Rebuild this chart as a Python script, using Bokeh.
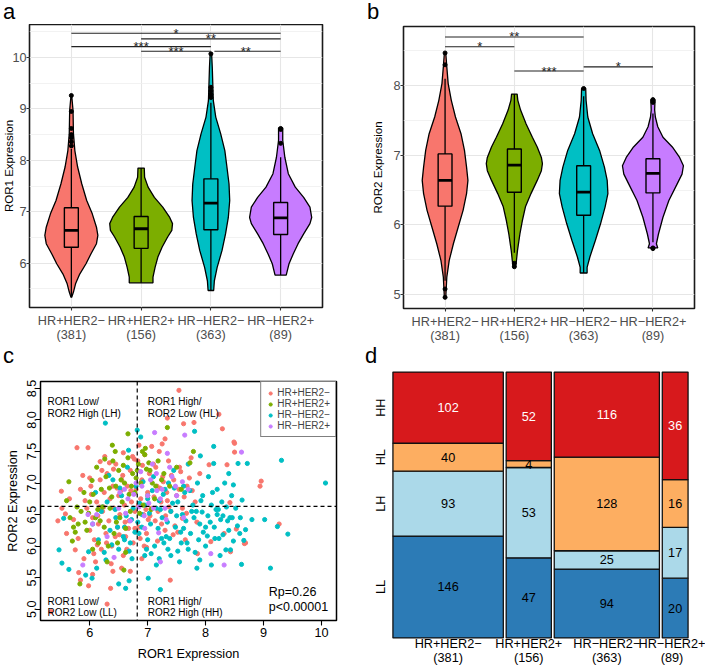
import math
from bokeh.plotting import figure
from bokeh.layouts import row, column
from bokeh.models import (Range1d, FixedTicker, Span, Legend, LegendItem, Div,
                          PrintfTickFormatter)
from bokeh.embed import file_html
from bokeh.resources import INLINE
from bokeh.core.properties import value

FONT = "Liberation Sans"

# ---------------- data ----------------
groups = ["HR+HER2\u2212", "HR+HER2+", "HR\u2212HER2\u2212", "HR\u2212HER2+"]
group_n = [381, 156, 363, 89]
group_colors = ["#F8766D", "#7CAE00", "#00BFC4", "#C77CFF"]

# Panel a: ROR1 violin outlines (value, half-width in category units)
ror1_violin_y = [
    [9.26, 8.97, 8.52, 8.19, 7.87, 7.54, 7.22, 6.96, 6.70, 6.54, 6.38, 6.18, 5.99, 5.79, 5.60, 5.44, 5.34],
    [7.85, 7.67, 7.48, 7.28, 7.09, 6.89, 6.77, 6.64, 6.51, 6.31, 6.12, 5.92, 5.73, 5.62],
    [10.09, 9.81, 9.16, 8.84, 8.52, 8.19, 7.87, 7.54, 7.22, 6.89, 6.57, 6.25, 5.92, 5.66, 5.47],
    [8.63, 8.39, 8.06, 7.74, 7.48, 7.28, 7.09, 6.89, 6.77, 6.57, 6.38, 6.18, 5.99, 5.77],
]
ror1_violin_hw = [
    [0.005, 0.024, 0.03, 0.05, 0.09, 0.15, 0.22, 0.30, 0.36, 0.38, 0.36, 0.28, 0.21, 0.12, 0.06, 0.03, 0.005],
    [0.045, 0.05, 0.10, 0.19, 0.31, 0.41, 0.45, 0.44, 0.38, 0.30, 0.24, 0.20, 0.17, 0.17],
    [0.01, 0.02, 0.035, 0.07, 0.14, 0.20, 0.23, 0.26, 0.27, 0.25, 0.21, 0.16, 0.09, 0.05, 0.04],
    [0.03, 0.03, 0.06, 0.11, 0.21, 0.33, 0.42, 0.445, 0.42, 0.33, 0.25, 0.18, 0.12, 0.08],
]
# box stats: lower whisker, q1, median, q3, upper whisker
ror1_lower = [5.34, 5.62, 5.47, 5.77]
ror1_q1 = [6.31, 6.29, 6.65, 6.56]
ror1_median = [6.64, 6.67, 7.17, 6.88]
ror1_q3 = [7.08, 6.91, 7.64, 7.18]
ror1_upper = [8.22, 7.85, 9.12, 8.06]
ror1_outliers = [[9.26, 8.95, 8.62, 8.50, 8.44, 8.36, 8.28], [], [10.07, 9.42, 9.35, 9.28, 9.22], [8.62, 8.60, 8.33]]
ror1_sig_from = [1, 2, 1, 2, 3]
ror1_sig_to = [4, 4, 3, 3, 4]
ror1_sig_y = [10.47, 10.36, 10.21, 10.12, 10.12]
ror1_sig_label = ["*", "**", "***", "***", "**"]

# Panel b: ROR2
ror2_violin_y = [
    [8.47, 8.27, 8.03, 7.79, 7.55, 7.31, 7.07, 6.83, 6.64, 6.45, 6.21, 5.97, 5.73, 5.49, 5.25, 4.96],
    [7.88, 7.79, 7.65, 7.45, 7.26, 7.12, 6.97, 6.88, 6.78, 6.64, 6.45, 6.26, 6.06, 5.87, 5.63, 5.49, 5.40],
    [7.96, 7.79, 7.55, 7.31, 7.07, 6.83, 6.64, 6.45, 6.26, 6.02, 5.78, 5.54, 5.39, 5.31],
    [7.80, 7.65, 7.55, 7.41, 7.26, 7.12, 6.97, 6.85, 6.73, 6.59, 6.35, 6.11, 5.87, 5.73, 5.67],
]
ror2_violin_hw = [
    [0.01, 0.025, 0.045, 0.09, 0.15, 0.23, 0.28, 0.31, 0.33, 0.31, 0.26, 0.19, 0.12, 0.06, 0.025, 0.01],
    [0.04, 0.05, 0.09, 0.17, 0.26, 0.33, 0.39, 0.405, 0.39, 0.33, 0.24, 0.16, 0.115, 0.08, 0.045, 0.03, 0.02],
    [0.03, 0.035, 0.06, 0.13, 0.23, 0.30, 0.34, 0.35, 0.31, 0.245, 0.17, 0.09, 0.05, 0.05],
    [0.03, 0.025, 0.035, 0.07, 0.145, 0.28, 0.385, 0.44, 0.42, 0.35, 0.23, 0.145, 0.08, 0.05, 0.07],
]
ror2_lower = [5.20, 5.60, 5.31, 5.75]
ror2_q1 = [6.27, 6.47, 6.14, 6.46]
ror2_median = [6.64, 6.86, 6.47, 6.74]
ror2_q3 = [7.02, 7.09, 6.85, 6.95]
ror2_upper = [8.10, 7.88, 7.85, 7.60]
ror2_outliers = [[8.47, 8.30, 5.08, 4.96], [5.45, 5.40], [7.96], [7.80, 7.78, 7.76, 5.67, 5.66]]
ror2_sig_from = [1, 1, 2, 3]
ror2_sig_to = [3, 2, 3, 4]
ror2_sig_y = [8.70, 8.56, 8.21, 8.27]
ror2_sig_label = ["**", "*", "***", "*"]

# Panel c: scatter (ROR1, ROR2) per subtype
red_x = [7.54, 7.34, 8.23, 7.80, 8.29, 7.62, 5.78, 5.97, 8.49, 8.50, 8.50, 8.37, 8.06, 8.96, 8.94, 8.42, 8.53, 9.27, 8.67, 8.69,
         8.43, 8.32, 8.09, 7.86, 7.39, 6.30, 5.33, 5.98, 6.36, 5.81, 5.84, 5.75, 5.90, 6.10, 5.51, 5.84, 5.58, 5.52, 5.45, 6.18,
         6.21, 6.85, 7.30, 7.25, 7.60, 7.65, 5.60, 5.65,
         5.95, 6.00, 6.02, 6.05, 6.08, 6.12, 6.15, 6.18, 6.20, 6.22, 6.25, 6.28, 6.30, 6.33, 6.35, 6.38, 6.40, 6.42, 6.45, 6.48,
         6.50, 6.52, 6.55, 6.58, 6.60, 6.62, 6.65, 6.68, 6.70, 6.72, 6.75, 6.78, 6.80, 6.83, 6.85, 6.88, 6.90, 6.93, 6.95, 6.98,
         7.00, 7.03, 7.06, 7.10, 7.13, 7.16, 7.20, 7.23, 7.26, 7.30, 7.33, 7.36, 7.40, 7.45, 7.50, 7.55, 7.60, 7.68, 7.75, 7.82,
         7.90, 6.40, 6.55, 6.70, 6.05, 6.90,
         5.72, 5.88, 6.03, 6.14, 6.26, 6.37, 6.47, 6.57, 6.67, 6.77, 6.87, 6.97, 7.07, 7.17, 7.27, 7.37, 7.47, 7.57, 7.67, 7.77,
         5.80, 5.92, 6.07, 6.17, 6.29, 6.41, 6.51, 6.61, 6.71, 6.81, 6.91, 7.01, 7.11, 7.21, 7.31, 7.41, 7.52, 7.63, 7.72, 7.85,
         6.00, 6.13, 6.24, 6.34, 6.44, 6.54, 6.64, 6.74, 6.84, 6.94, 7.04, 7.14, 7.24, 7.34, 7.44, 7.54, 6.58, 6.78, 6.98, 7.18]
red_y = [8.47, 8.03, 8.09, 7.96, 7.86, 7.94, 7.56, 7.56, 7.65, 7.49, 7.63, 7.29, 7.29, 7.03, 6.95, 6.69, 6.27, 6.35, 6.04, 6.05,
         5.91, 6.20, 6.07, 5.88, 5.46, 5.08, 4.96, 5.37, 5.33, 5.58, 5.46, 5.94, 5.80, 5.75, 6.87, 6.90, 6.51, 6.60, 6.40, 7.34,
         7.20, 7.60, 7.70, 7.62, 6.44, 6.10, 6.20, 6.75,
         6.60, 6.25, 6.95, 6.45, 6.10, 6.70, 6.35, 7.05, 5.95, 6.55, 6.85, 6.20, 7.15, 6.40, 6.75, 6.00, 6.95, 6.60, 7.30, 6.30,
         6.80, 6.50, 7.05, 5.85, 6.65, 6.15, 6.95, 6.40, 7.20, 6.70, 6.05, 6.55, 6.90, 7.35, 6.30, 6.75, 7.05, 6.50, 7.45, 6.20,
         6.85, 7.15, 6.60, 7.30, 6.40, 6.95, 7.50, 6.70, 7.10, 6.25, 6.85, 7.35, 6.55, 7.05, 6.80, 7.25, 6.60, 6.95, 7.40, 6.70,
         7.15, 5.60, 5.65, 5.60, 5.55, 5.80,
         6.42, 7.12, 6.82, 6.48, 7.42, 5.72, 6.92, 7.12, 6.28, 7.38, 6.12, 6.58, 7.58, 6.08, 7.02, 6.62, 6.32, 7.18, 6.52, 6.88,
         6.12, 6.72, 5.88, 6.62, 6.05, 7.22, 6.18, 6.38, 6.88, 6.22, 7.28, 6.42, 6.78, 6.92, 6.48, 7.12, 6.22, 6.78, 7.08, 6.38,
         7.08, 6.02, 6.62, 7.32, 6.15, 6.88, 5.95, 7.42, 6.65, 6.00, 6.48, 7.25, 6.35, 6.72, 6.18, 6.90, 7.48, 6.28, 5.98, 6.55]
green_x = [6.66, 6.39, 5.64, 6.04, 7.34, 6.91, 6.95, 7.79, 7.73, 5.83, 5.72, 5.75, 5.80, 6.59, 5.60, 5.66, 5.70, 5.85, 5.90, 5.95,
           6.00, 6.05, 6.10, 6.12, 6.15, 6.20, 6.25, 6.28, 6.32, 6.35, 6.40, 6.42, 6.45, 6.50, 6.52, 6.56, 6.60, 6.62, 6.66, 6.70,
           6.74, 6.78, 6.84, 6.88, 6.96, 7.00, 7.04, 7.08, 7.12, 7.18, 7.24, 7.38, 7.50, 7.58, 6.30, 6.18, 6.48,
           5.78, 5.92, 6.06, 6.22, 6.34, 6.46, 6.58, 6.68, 6.80, 6.92, 7.02, 7.14, 7.28, 6.14, 6.38, 6.54, 6.72, 6.86, 7.06, 6.26,
           6.62, 6.98, 5.98, 6.44, 6.82]
green_y = [7.78, 7.60, 7.02, 7.04, 7.88, 7.50, 7.45, 7.50, 7.32, 5.40, 6.30, 6.22, 6.35, 5.62, 6.72, 6.45, 6.08, 6.55, 6.85, 6.25,
           6.70, 5.95, 6.45, 7.25, 6.05, 6.90, 6.30, 7.10, 6.00, 6.60, 7.35, 6.20, 6.95, 7.20, 6.45, 6.70, 7.00, 5.90, 7.40, 6.55,
           7.15, 6.85, 7.30, 7.00, 7.55, 6.80, 7.20, 7.00, 6.75, 7.35, 7.05, 6.95, 7.25, 6.90, 5.75, 6.40, 6.05,
           6.62, 6.38, 6.82, 6.62, 6.92, 6.38, 7.28, 6.82, 7.08, 6.65, 7.32, 6.95, 7.15, 6.58, 6.78, 7.05, 6.95, 6.52, 6.58, 7.38,
           6.28, 7.22, 6.52, 7.50, 7.20]
cyan_x = [6.27, 6.67, 6.82, 6.88, 7.81, 8.14, 7.91, 8.40, 8.14, 8.56, 8.72, 9.31, 10.07, 8.48, 8.63, 8.46, 8.80, 9.02, 9.24, 8.59,
          8.69, 9.42, 8.66, 8.62, 9.12, 7.94, 8.20, 8.30, 8.03, 8.23, 7.22, 7.01, 8.35, 8.43, 7.85, 8.10, 5.64, 5.52, 5.47, 5.93,
          6.04, 5.98, 6.12, 6.73, 6.50, 6.62, 6.68, 5.55,
          6.05, 6.10, 6.15, 6.20, 6.25, 6.30, 6.35, 6.40, 6.45, 6.50, 6.55, 6.60, 6.65, 6.70, 6.75, 6.80, 6.85, 6.90, 6.95, 7.00,
          7.05, 7.10, 7.12, 7.15, 7.20, 7.25, 7.30, 7.32, 7.35, 7.40, 7.45, 7.48, 7.52, 7.55, 7.58, 7.62, 7.66, 7.70, 7.74, 7.78,
          7.82, 7.86, 7.90, 7.95, 8.00, 8.05, 8.10, 8.15, 8.20, 8.25, 8.28, 8.33, 8.38, 8.45, 8.52, 7.00, 7.28, 7.60, 7.15, 6.95,
          7.40, 7.70,
          6.22, 6.38, 6.52, 6.63, 6.78, 6.92, 7.03, 7.18, 7.27, 7.38, 7.50, 7.62, 7.73, 7.84, 7.96, 8.08, 8.18, 8.30, 8.42, 8.55,
          6.28, 6.44, 6.58, 6.72, 6.86, 6.98, 7.08, 7.22, 7.34, 7.46, 7.57, 7.68, 7.80, 7.92, 8.04, 8.16, 8.26, 8.36, 8.48, 8.60,
          6.33, 6.48, 6.68, 6.83, 7.06, 7.24, 7.43, 7.64, 7.88, 8.12, 6.90, 7.20, 7.52, 7.76, 8.00, 8.22, 6.60, 7.36, 7.90, 8.40]
cyan_y = [7.95, 7.52, 7.84, 7.73, 7.82, 7.58, 7.43, 7.15, 7.31, 7.31, 7.31, 7.36, 7.00, 6.97, 6.73, 6.45, 6.42, 6.42, 6.31, 6.20,
          6.26, 6.19, 6.09, 5.71, 5.65, 6.54, 6.50, 6.48, 6.16, 6.12, 5.31, 5.49, 5.94, 5.94, 5.65, 5.70, 5.63, 5.73, 5.94, 5.54,
          5.49, 5.91, 5.65, 5.80, 5.40, 5.33, 5.45, 6.44,
          6.35, 6.85, 6.10, 6.55, 5.90, 6.70, 6.25, 7.05, 6.45, 5.95, 6.80, 6.30, 7.25, 6.05, 6.60, 6.95, 6.20, 6.50, 5.85, 6.75,
          6.35, 7.10, 6.00, 6.60, 5.80, 6.45, 6.90, 6.15, 5.95, 6.55, 7.20, 6.30, 6.70, 5.75, 6.05, 6.95, 6.40, 7.30, 6.20, 6.65,
          5.90, 7.00, 6.35, 6.80, 6.00, 7.10, 6.65, 6.30, 6.90, 5.85, 6.70, 7.00, 6.40, 6.80, 6.60, 6.10, 6.05, 6.50, 5.70, 6.65,
          5.85, 5.95,
          6.62, 6.02, 6.92, 6.48, 6.22, 7.02, 6.52, 6.28, 6.82, 6.12, 6.48, 6.28, 6.88, 6.55, 6.22, 6.38, 6.58, 6.18, 6.45, 6.32,
          5.78, 6.58, 6.15, 6.42, 6.68, 5.95, 6.88, 6.58, 6.38, 6.92, 6.22, 6.05, 6.45, 6.72, 6.48, 6.12, 6.42, 6.62, 6.08, 6.45,
          7.12, 6.30, 5.92, 6.38, 5.88, 6.12, 6.68, 6.85, 6.10, 6.85, 6.30, 6.72, 5.92, 6.55, 6.30, 6.58, 6.10, 7.00, 5.78, 6.25]
purple_x = [7.12, 7.34, 7.64, 8.62, 7.19, 8.09, 8.32, 7.22, 5.97, 6.12, 5.88, 6.05, 6.30, 6.50, 6.60, 6.70, 6.80, 6.85, 6.90, 6.95,
            7.00, 7.05, 7.10, 7.15, 7.25, 7.30, 7.38, 7.50, 7.70, 7.62, 6.42, 6.66, 7.42,
            6.62, 6.76, 6.88, 7.02, 7.16, 7.32, 7.48, 6.94, 7.08, 7.22, 6.52, 7.60]
purple_y = [7.80, 7.47, 7.76, 7.49, 6.21, 5.88, 5.70, 5.75, 6.50, 6.50, 5.70, 6.35, 6.15, 6.60, 6.90, 6.40, 7.00, 6.62, 6.95, 6.28,
            6.80, 7.05, 6.60, 7.15, 6.90, 6.60, 7.25, 6.80, 6.90, 6.45, 5.82, 6.75, 7.10,
            6.52, 6.82, 7.18, 6.68, 6.88, 6.42, 6.95, 6.48, 7.30, 6.75, 6.85, 7.02]
ror1_cut = 6.82
ror2_cut = 6.63
rp_text = ["Rp=0.26", "p<0.00001"]

# Panel d: mosaic counts per subtype (columns) and ROR1/ROR2 class (rows, bottom to top)
mosaic_rows = ["LL", "LH", "HL", "HH"]
counts_LL = [146, 47, 94, 20]
counts_LH = [93, 53, 25, 17]
counts_HL = [40, 4, 128, 16]
counts_HH = [102, 52, 116, 36]
mosaic_colors = ["#2C7BB6", "#ABD9E9", "#FDAE61", "#D7191C"]
mosaic_text_colors = ["black", "black", "black", "white"]

# ---------------- helpers ----------------
GRID_MAJOR = "#E6E6E6"
GRID_MINOR = "#EFEFEF"
TICK_COL = "#4D4D4D"


def no_align(p):
    try:
        p.frame_align = False
    except Exception:
        pass


def axis_common(ax, size="12.7px", color=TICK_COL):
    ax.major_label_text_font = FONT
    ax.major_label_text_font_size = size
    ax.major_label_text_color = color
    ax.axis_label_text_font = FONT
    ax.axis_label_text_font_style = "normal"
    ax.axis_label_text_color = "black"
    ax.minor_tick_line_color = None
    ax.axis_line_color = None


def letter_div(ch, width, height, indent, lh):
    return Div(text=ch, width=width, height=height, margin=0,
               styles={"font-family": "'Liberation Sans', Arial, sans-serif", "font-size": "22px",
                       "line-height": f"{lh}px", "text-indent": f"{indent}px", "color": "black",
                       "padding": "0px", "overflow": "visible"})


def violin_panel(width, height, borders, yr, yticks, yminor, ylabel,
                 vy, vhw, lower, q1, med, q3, upper, outl, sfrom, sto, sy, slab):
    bl, br, bt, bb = borders
    p = figure(width=width, height=height, x_range=Range1d(0.4, 4.6), y_range=Range1d(*yr),
               output_backend="svg", toolbar_location=None, title=None,
               min_border_left=bl, min_border_right=br, min_border_top=bt, min_border_bottom=bb)
    no_align(p)
    p.background_fill_color = "white"
    p.border_fill_color = "white"
    p.outline_line_color = "#1A1A1A"
    p.outline_line_width = 1.6
    p.xaxis.ticker = FixedTicker(ticks=[1, 2, 3, 4])
    p.xaxis.major_label_overrides = {i + 1: f"{g}\n({n})" for i, (g, n) in enumerate(zip(groups, group_n))}
    p.yaxis.ticker = FixedTicker(ticks=yticks, minor_ticks=yminor)
    for ax in (p.xaxis[0], p.yaxis[0]):
        axis_common(ax)
        ax.major_tick_line_color = "#333333"
        ax.major_tick_line_width = 1.1
        ax.major_tick_out = 3
        ax.major_tick_in = 0
    p.xaxis.major_label_standoff = 3
    p.xaxis.major_label_text_line_height = 1.0
    p.yaxis.major_label_standoff = -1
    p.yaxis.axis_label = ylabel
    p.yaxis.axis_label_text_font_size = "11.5px"
    p.xgrid.grid_line_color = GRID_MAJOR
    p.xgrid.grid_line_width = 1.1
    p.ygrid.grid_line_color = GRID_MAJOR
    p.ygrid.grid_line_width = 1.1
    p.ygrid.minor_grid_line_color = GRID_MINOR
    p.ygrid.minor_grid_line_width = 0.8

    bw = 0.1
    for i in range(4):
        c = i + 1
        ys = vy[i]
        hws = vhw[i]
        xs = [c - h for h in hws] + [c + h for h in reversed(hws)]
        yy = list(ys) + list(reversed(ys))
        p.patch(xs, yy, fill_color=group_colors[i], line_color="black", line_width=1.3)
    cx = [i + 1 for i in range(4)]
    p.segment(x0=cx, y0=q3, x1=cx, y1=upper, line_color="black", line_width=1.3)
    p.segment(x0=cx, y0=lower, x1=cx, y1=q1, line_color="black", line_width=1.3)
    p.quad(left=[c - bw for c in cx], right=[c + bw for c in cx], bottom=q1, top=q3,
           fill_color=None, line_color="black", line_width=1.4)
    p.segment(x0=[c - bw for c in cx], y0=med, x1=[c + bw for c in cx], y1=med,
              line_color="black", line_width=2.8)
    ox, oy = [], []
    for i in range(4):
        for v in outl[i]:
            ox.append(i + 1)
            oy.append(v)
    p.scatter(ox, oy, size=4, color="black")
    # significance brackets
    x0s, x1s, tx = [], [], []
    for k in range(len(sfrom)):
        a = sfrom[k]
        for m in range(len(sfrom)):
            if m != k and sto[m] == sfrom[k] and abs(sy[m] - sy[k]) < 1e-6:
                a = sfrom[k] + 0.05
        x0s.append(a)
        x1s.append(sto[k])
        tx.append((sfrom[k] + sto[k]) / 2)
    p.segment(x0=x0s, y0=sy, x1=x1s, y1=sy, line_color="#222222", line_width=1.1)
    p.text(x=tx, y=sy, text=slab, text_align="center", text_baseline="middle",
           text_font=value(FONT), text_font_size="13px", text_color="#222222")
    return p


# ---------------- panel a ----------------
pa = violin_panel(355, 321, (29, 33, 0, 38), (5.14, 10.64), [6, 7, 8, 9, 10],
                  [5.5, 6.5, 7.5, 8.5, 9.5, 10.5], "ROR1 Expression",
                  ror1_violin_y, ror1_violin_hw, ror1_lower, ror1_q1, ror1_median, ror1_q3, ror1_upper,
                  ror1_outliers, ror1_sig_from, ror1_sig_to, ror1_sig_y, ror1_sig_label)
pa.yaxis.axis_label_standoff = -6

# ---------------- panel b ----------------
pb = violin_panel(350, 321, (48, 11, 2, 37), (4.80, 8.85), [5, 6, 7, 8],
                  [5.5, 6.5, 7.5, 8.5], "ROR2 Expression",
                  ror2_violin_y, ror2_violin_hw, ror2_lower, ror2_q1, ror2_median, ror2_q3, ror2_upper,
                  ror2_outliers, ror2_sig_from, ror2_sig_to, ror2_sig_y, ror2_sig_label)
pb.yaxis.axis_label_standoff = 6

# ---------------- panel c ----------------
pc = figure(width=355, height=299, x_range=Range1d(5.15, 10.26), y_range=Range1d(4.82, 8.61),
            output_backend="svg", toolbar_location=None, title=None,
            min_border_left=40, min_border_right=19, min_border_top=13, min_border_bottom=47)
no_align(pc)
pc.background_fill_color = "white"
pc.border_fill_color = "white"
pc.outline_line_color = "black"
pc.outline_line_width = 1.5
pc.xgrid.visible = False
pc.ygrid.visible = False
pc.xaxis.ticker = FixedTicker(ticks=[6, 7, 8, 9, 10])
pc.yaxis.ticker = FixedTicker(ticks=[5.0, 5.5, 6.0, 6.5, 7.0, 7.5, 8.0, 8.5])
pc.yaxis.formatter = PrintfTickFormatter(format="%.1f")
for ax in (pc.xaxis[0], pc.yaxis[0]):
    axis_common(ax, color="black")
    ax.major_tick_line_color = "black"
    ax.major_tick_line_width = 1.1
    ax.major_tick_out = 5
    ax.major_tick_in = 0
    ax.axis_label_text_font_size = "12.7px"
pc.xaxis.axis_label = "ROR1 Expression"
pc.xaxis.major_label_standoff = 2
pc.xaxis.axis_label_standoff = 7
pc.yaxis.axis_label = "ROR2 Expression"
pc.yaxis.major_label_orientation = "parallel"
pc.yaxis.major_label_standoff = -1
pc.yaxis.axis_label_standoff = 5

r_red = pc.scatter(red_x, red_y, size=4.2, color=group_colors[0])
r_cyan = pc.scatter(cyan_x, cyan_y, size=4.2, color=group_colors[2])
r_green = pc.scatter(green_x, green_y, size=4.2, color=group_colors[1])
r_purple = pc.scatter(purple_x, purple_y, size=4.2, color=group_colors[3])
pc.add_layout(Span(location=ror1_cut, dimension="height", line_color="black", line_width=1.2, line_dash="4 3"))
pc.add_layout(Span(location=ror2_cut, dimension="width", line_color="black", line_width=1.2, line_dash="4 3"))

qtxt_x = [5.27, 5.27, 7.00, 7.00, 5.27, 5.27, 7.00, 7.00]
qtxt_y = [8.29, 8.11, 8.29, 8.11, 5.12, 4.94, 5.12, 4.94]
qtxt = ["ROR1 Low/", "ROR2 High (LH)", "ROR1 High/", "ROR2 Low (HL)",
        "ROR1 Low/", "ROR2 Low (LL)", "ROR1 High/", "ROR2 High (HH)"]
pc.text(x=qtxt_x, y=qtxt_y, text=qtxt, text_align="left", text_baseline="middle",
        text_font=value(FONT), text_font_size="10px", text_color="black")
pc.text(x=[9.09, 9.09], y=[5.27, 5.04], text=rp_text, text_align="left", text_baseline="middle",
        text_font=value(FONT), text_font_size="12.5px", text_color="black")

legend = Legend(items=[LegendItem(label=groups[0], renderers=[r_red]),
                       LegendItem(label=groups[1], renderers=[r_green]),
                       LegendItem(label=groups[2], renderers=[r_cyan]),
                       LegendItem(label=groups[3], renderers=[r_purple])],
                location="top_right", margin=0, padding=5, spacing=0,
                label_height=10, glyph_height=10, glyph_width=8, label_standoff=3,
                border_line_color="black", border_line_width=1.5,
                background_fill_color="white", background_fill_alpha=1.0,
                label_text_font=FONT, label_text_font_size="10px")
pc.add_layout(legend)

# ---------------- panel d ----------------
gap = 0.01
total = sum(group_n)
row_counts = [counts_LL, counts_LH, counts_HL, counts_HH]
lefts, rights, centers = [], [], []
xcur = 0.0
for n in group_n:
    w = n / total
    lefts.append(xcur)
    rights.append(xcur + w)
    centers.append(round(xcur + w / 2, 5))
    xcur += w + gap
xmax = xcur - gap

pd_ = figure(width=350, height=299, x_range=Range1d(-0.005, xmax + 0.005), y_range=Range1d(-0.006, 1.006),
             output_backend="svg", toolbar_location=None, title=None,
             min_border_left=36, min_border_right=16, min_border_top=2, min_border_bottom=28)
no_align(pd_)
pd_.background_fill_color = "white"
pd_.border_fill_color = "white"
pd_.outline_line_color = None
pd_.xgrid.visible = False
pd_.ygrid.visible = False

ql, qr, qb, qt, qc, tx, ty, tt, tc = [], [], [], [], [], [], [], [], []
row_label_pos = []
for j in range(4):
    ycur = 0.0
    for r in range(4):
        h = row_counts[r][j] / group_n[j]
        ql.append(lefts[j]); qr.append(rights[j]); qb.append(ycur); qt.append(ycur + h)
        qc.append(mosaic_colors[r])
        tx.append((lefts[j] + rights[j]) / 2); ty.append(ycur + h / 2)
        tt.append(str(row_counts[r][j])); tc.append(mosaic_text_colors[r])
        if j == 0:
            row_label_pos.append(round(ycur + h / 2, 5))
        ycur += h
pd_.quad(left=ql, right=qr, bottom=qb, top=qt, fill_color=qc, line_color="#111111", line_width=1.3)
pd_.text(x=tx, y=ty, text=tt, text_color=tc, text_align="center", text_baseline="middle",
         text_font=value(FONT), text_font_size="12.7px")

pd_.xaxis.ticker = FixedTicker(ticks=centers)
pd_.xaxis.major_label_overrides = {centers[i]: f"{groups[i]}\n({group_n[i]})" for i in range(4)}
pd_.yaxis.ticker = FixedTicker(ticks=row_label_pos)
pd_.yaxis.major_label_overrides = {row_label_pos[i]: mosaic_rows[i] for i in range(4)}
for ax in (pd_.xaxis[0], pd_.yaxis[0]):
    axis_common(ax, color="black")
    ax.major_tick_line_color = None
    ax.major_tick_out = 0
pd_.xaxis.major_label_standoff = -3
pd_.xaxis.major_label_text_line_height = 1.0
pd_.yaxis.major_label_orientation = "parallel"
pd_.yaxis.major_label_standoff = 3

# ---------------- panel letters & layout ----------------
div_a = letter_div("a", 355, 24, 3, 24)
div_b = letter_div("b", 350, 24, 12, 24)
div_c = letter_div("c", 355, 23, 3, 21)
div_d = letter_div("d", 350, 23, 10, 21)

lay = column(row(div_a, div_b), row(pa, pb), row(div_c, div_d), row(pc, pd_))

open("out.html", "w").write(file_html(lay, INLINE))
